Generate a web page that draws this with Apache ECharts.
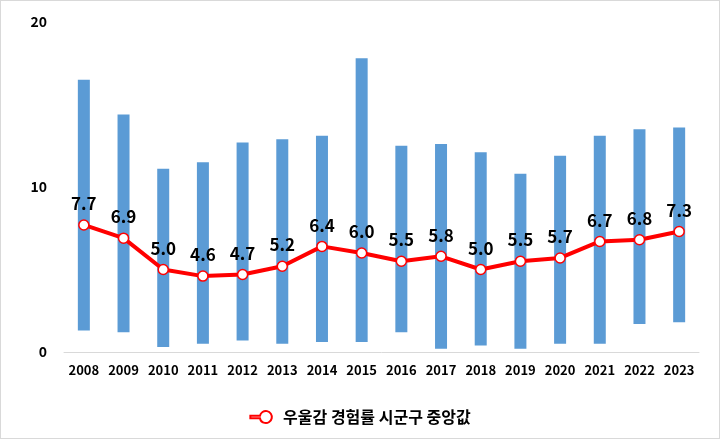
<!DOCTYPE html>
<html><head><meta charset="utf-8">
<script src="https://cdn.jsdelivr.net/npm/echarts@6/dist/echarts.min.js"></script>
<style>html,body{margin:0;padding:0;background:#fff}#c{width:718px;height:437px;border:1px solid #d9d9d9}</style>
</head><body><div id="c"></div>
<script>
var years = ['2008','2009','2010','2011','2012','2013','2014','2015','2016','2017','2018','2019','2020','2021','2022','2023'];
var median = [7.7,6.9,5.0,4.6,4.7,5.2,6.4,6.0,5.5,5.8,5.0,5.5,5.7,6.7,6.8,7.3];
var rangeMin = [1.3,1.2,0.3,0.5,0.7,0.5,0.6,0.6,1.2,0.2,0.4,0.2,0.5,0.5,1.7,1.8];
var rangeMax = [16.5,14.4,11.1,11.5,12.7,12.9,13.1,17.8,12.5,12.6,12.1,10.8,11.9,13.1,13.5,13.6];
var yTicks = [0,10,20];
var legendName = '우울감 경험률 시군구 중앙값';

var span = rangeMax.map(function(v,i){return +(v - rangeMin[i]).toFixed(2);});
var font = '"Noto Sans CJK KR", "Noto Sans", sans-serif';
var chart = echarts.init(document.getElementById('c'));
chart.setOption({
  animation:false,
  grid:{left:63,right:20,top:21,bottom:86},
  legend:{
    data:[{name:legendName,icon:'path://M0,4 L8,4 A5,5 0 1 1 8,6 L0,6 Z'}],
    bottom:8,left:'center',itemWidth:34,itemHeight:12,itemGap:4,
    textStyle:{fontFamily:font,fontWeight:'bold',fontSize:16,color:'#000'}
  },
  xAxis:{type:'category',data:years,
    axisLine:{lineStyle:{color:'#d9d9d9',width:1}},axisTick:{show:false},
    axisLabel:{interval:0,fontFamily:font,fontWeight:'bold',fontSize:13,color:'#000',margin:12}},
  yAxis:{type:'value',min:0,max:20,interval:10,
    splitLine:{show:false},axisLine:{show:false},axisTick:{show:false},
    axisLabel:{fontFamily:font,fontWeight:'bold',fontSize:14,color:'#000',margin:17,
      formatter:function(v){return yTicks.indexOf(v)>=0?String(v):'';}}},
  series:[
    {type:'bar',stack:'r',data:rangeMin,barWidth:12,itemStyle:{color:'transparent'},silent:true},
    {type:'bar',stack:'r',data:span,barWidth:12,itemStyle:{color:'#5B9BD5'}},
    {name:legendName,type:'line',data:median,z:5,
      lineStyle:{color:'#FF0000',width:4},
      symbol:'circle',symbolSize:10,
      itemStyle:{color:'#fff',borderColor:'#FF0000',borderWidth:1.5},
      label:{show:true,position:'top',distance:7,fontFamily:font,fontWeight:'bold',fontSize:17,color:'#000',
        formatter:function(p){return p.value.toFixed(1);}}}
  ]
});
</script></body></html>
